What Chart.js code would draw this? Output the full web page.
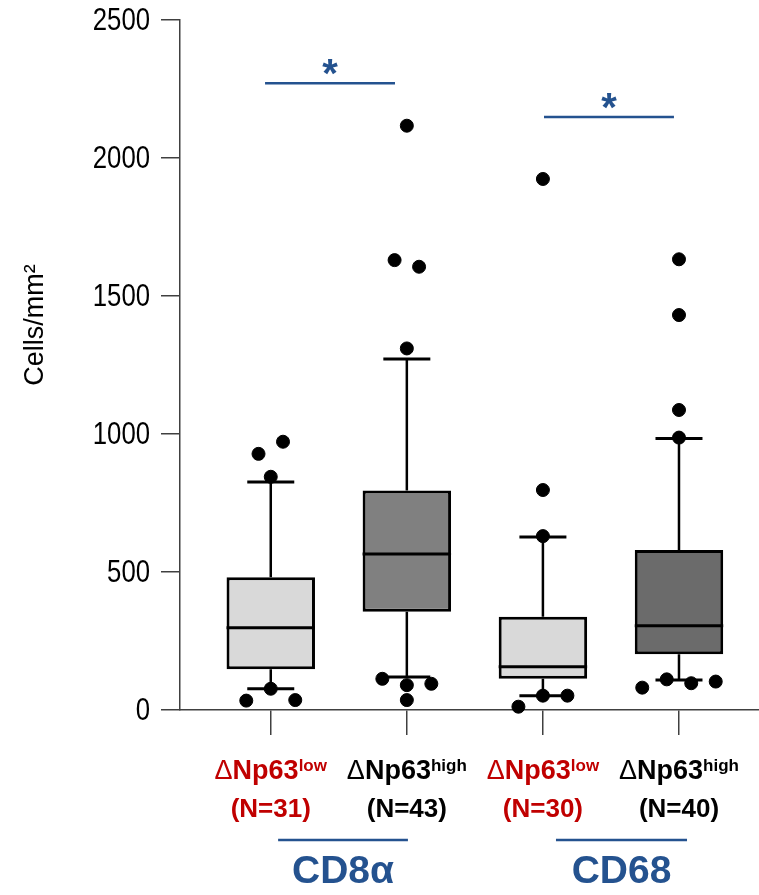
<!DOCTYPE html>
<html>
<head>
<meta charset="utf-8">
<script src="https://cdn.jsdelivr.net/npm/chart.js@4.4.1/dist/chart.umd.min.js"></script>
<style>
  html, body { margin: 0; padding: 0; background: #fff; }
  canvas { display: block; }
</style>
</head>
<body>
<canvas id="boxChart" width="759" height="895"></canvas>
<script>
// groups, left to right
var groupPos = [1, 2, 3, 4];
var groupName = ['\u0394Np63', '\u0394Np63', '\u0394Np63', '\u0394Np63'];
var groupSup = ['low', 'high', 'low', 'high'];
var groupN = ['(N=31)', '(N=43)', '(N=30)', '(N=40)'];
var markerNames = ['CD8\u03b1', 'CD68'];

// box plot values (cells/mm2)
var whiskerLow = [77, 120, 52, 109];
var q1 = [148, 356, 113, 202];
var median = [298, 565, 157, 305];
var q3 = [481, 795, 338, 580];
var whiskerHigh = [826, 1272, 627, 984];
var outliers1 = [928, 972, 845, 34, 77, 36];
var outliers2 = [2117, 1630, 1606, 1310, 113, 90, 95, 36];
var outliers3 = [1924, 797, 630, 12, 52, 52];
var outliers4 = [1633, 1431, 1087, 987, 81, 111, 97, 103];

var yTicks = [0, 500, 1000, 1500, 2000, 2500];

var boxFill = ['#d9d9d9', '#808080', '#d9d9d9', '#6b6b6b'];
var lowRed = '#c00000';
var navy = '#24528f';
var axisGrey = '#404040';
var FONT = '"Liberation Sans", Arial, sans-serif';

// spread points that would overlap side by side (like a small beeswarm)
function swarm(values, center) {
    var closeGap = 47, step = 0.18;
    var used = values.map(function () { return false; });
    var pts = [];
    for (var i = 0; i < values.length; i++) {
        if (used[i]) continue;
        var cluster = [i];
        used[i] = true;
        for (var k = 0; k < cluster.length; k++) {
            for (var j = 0; j < values.length; j++) {
                if (!used[j] && Math.abs(values[j] - values[cluster[k]]) < closeGap) {
                    used[j] = true;
                    cluster.push(j);
                }
            }
        }
        cluster.sort(function (a, b) { return a - b; });
        cluster.forEach(function (idx, n) {
            pts.push({x: center + (n - (cluster.length - 1) / 2) * step, y: values[idx]});
        });
    }
    return pts;
}

var outlierPts = [];
[outliers1, outliers2, outliers3, outliers4].forEach(function (vals, i) {
    outlierPts = outlierPts.concat(swarm(vals, groupPos[i]));
});

var boxData = groupPos.map(function (x, i) {
    return {x: x, y: [q1[i], q3[i]]};
});

// whiskers, caps and medians around the floating bars
var boxPlotPlugin = {
    id: 'boxPlotPlugin',
    beforeDatasetsDraw: function (chart) {
        var ctx = chart.ctx, y = chart.scales.y;
        var meta = chart.getDatasetMeta(0);
        ctx.save();
        ctx.strokeStyle = '#000';
        meta.data.forEach(function (el, i) {
            ctx.lineWidth = 2.5;
            ctx.beginPath();
            ctx.moveTo(el.x, y.getPixelForValue(q3[i]));
            ctx.lineTo(el.x, y.getPixelForValue(whiskerHigh[i]));
            ctx.moveTo(el.x, y.getPixelForValue(q1[i]));
            ctx.lineTo(el.x, y.getPixelForValue(whiskerLow[i]));
            ctx.stroke();
            ctx.lineWidth = 3;
            ctx.beginPath();
            [whiskerHigh[i], whiskerLow[i]].forEach(function (v) {
                var py = y.getPixelForValue(v);
                ctx.moveTo(el.x - 23.5, py);
                ctx.lineTo(el.x + 23.5, py);
            });
            ctx.stroke();
        });
        ctx.restore();
    },
    afterDatasetsDraw: function (chart) {
        var ctx = chart.ctx, y = chart.scales.y;
        var meta = chart.getDatasetMeta(0);
        ctx.save();
        ctx.strokeStyle = '#000';
        ctx.lineWidth = 3;
        meta.data.forEach(function (el, i) {
            var py = y.getPixelForValue(median[i]);
            ctx.beginPath();
            ctx.moveTo(el.x - el.width / 2, py);
            ctx.lineTo(el.x + el.width / 2, py);
            ctx.stroke();
        });
        ctx.restore();
    }
};

// y tick labels (condensed), significance bars, category labels and the y title
var labelsPlugin = {
    id: 'labelsPlugin',
    afterDraw: function (chart) {
        var ctx = chart.ctx, x = chart.scales.x, y = chart.scales.y;
        var area = chart.chartArea;
        ctx.save();

        // y tick labels, squeezed like a narrow font
        ctx.fillStyle = '#000';
        ctx.font = '31px ' + FONT;
        ctx.textAlign = 'right';
        ctx.textBaseline = 'middle';
        y.ticks.forEach(function (t) {
            ctx.save();
            ctx.translate(150, y.getPixelForValue(t.value) + 1);
            ctx.scale(0.83, 1);
            ctx.fillText(String(t.value), 0, 0);
            ctx.restore();
        });

        // significance
        [[0.958, 1.913, 2271], [3.008, 3.963, 2149]].forEach(function (s) {
            var x0 = x.getPixelForValue(s[0]), x1 = x.getPixelForValue(s[1]);
            var py = y.getPixelForValue(s[2]);
            ctx.strokeStyle = navy;
            ctx.lineWidth = 2.5;
            ctx.beginPath();
            ctx.moveTo(x0, py);
            ctx.lineTo(x1, py);
            ctx.stroke();
            ctx.fillStyle = navy;
            ctx.font = 'bold 40px ' + FONT;
            ctx.textAlign = 'center';
            ctx.textBaseline = 'alphabetic';
            ctx.fillText('*', (x0 + x1) / 2, py + 4);
        });

        // group labels under the ticks
        groupPos.forEach(function (v, i) {
            var cx = x.getPixelForValue(v);
            var color = groupSup[i] === 'low' ? lowRed : '#000';
            var parts = [
                {t: groupName[i].charAt(0), f: '27px ' + FONT, dy: 0},
                {t: groupName[i].slice(1), f: 'bold 27px ' + FONT, dy: 0},
                {t: groupSup[i], f: 'bold 17px ' + FONT, dy: -8}
            ];
            var w = 0;
            parts.forEach(function (p) { ctx.font = p.f; p.w = ctx.measureText(p.t).width; w += p.w; });
            var px = cx - w / 2;
            ctx.fillStyle = color;
            ctx.textAlign = 'left';
            ctx.textBaseline = 'alphabetic';
            parts.forEach(function (p) {
                ctx.font = p.f;
                ctx.fillText(p.t, px, area.bottom + 69 + p.dy);
                px += p.w;
            });
            ctx.font = 'bold 26px ' + FONT;
            ctx.textAlign = 'center';
            ctx.fillText(groupN[i], cx, area.bottom + 107);
        });

        // marker groups
        [[1.054, 2.008], [3.096, 4.059]].forEach(function (g, i) {
            var x0 = x.getPixelForValue(g[0]), x1 = x.getPixelForValue(g[1]);
            ctx.strokeStyle = navy;
            ctx.lineWidth = 2.5;
            ctx.beginPath();
            ctx.moveTo(x0, area.bottom + 130);
            ctx.lineTo(x1, area.bottom + 130);
            ctx.stroke();
            ctx.fillStyle = navy;
            ctx.font = 'bold 39px ' + FONT;
            ctx.textAlign = 'center';
            ctx.fillText(markerNames[i], (x0 + x1) / 2, area.bottom + 173);
        });

        // y title
        ctx.translate(43, (area.top + area.bottom) / 2 - 40);
        ctx.rotate(-Math.PI / 2);
        ctx.fillStyle = '#000';
        ctx.font = '27px ' + FONT;
        ctx.textAlign = 'center';
        ctx.textBaseline = 'alphabetic';
        ctx.fillText('Cells/mm\u00b2', 0, 0);
        ctx.restore();
    }
};

new Chart(document.getElementById('boxChart'), {
    type: 'bar',
    data: {
        datasets: [{
            type: 'bar',
            data: boxData,
            backgroundColor: boxFill,
            borderColor: '#000',
            borderWidth: 3,
            borderSkipped: false,
            categoryPercentage: 0.65,
            barPercentage: 1,
            order: 2
        }, {
            type: 'scatter',
            data: outlierPts,
            backgroundColor: '#000',
            borderColor: '#000',
            pointRadius: 6.5,
            clip: false,
            order: 1
        }]
    },
    options: {
        responsive: false,
        animation: false,
        devicePixelRatio: 1,
        layout: {autoPadding: false, padding: {top: 20, right: 0, bottom: 160, left: 0}},
        plugins: {legend: {display: false}, tooltip: {enabled: false}},
        scales: {
            x: {
                type: 'linear',
                offset: false,
                min: 0.333,
                max: 4.588,
                afterBuildTicks: function (scale) {
                    scale.ticks = groupPos.map(function (v) { return {value: v}; });
                },
                ticks: {display: false},
                grid: {offset: false, drawOnChartArea: false, drawTicks: true, tickLength: 25, color: axisGrey, lineWidth: 1.5},
                border: {color: axisGrey, width: 1.5}
            },
            y: {
                min: 0,
                max: 2500,
                afterBuildTicks: function (scale) {
                    scale.ticks = yTicks.map(function (v) { return {value: v}; });
                },
                afterFit: function (scale) {
                    scale.width = 180;
                    scale.paddingTop = 0;
                    scale.paddingBottom = 0;
                },
                ticks: {display: false},
                grid: {drawOnChartArea: false, drawTicks: true, tickLength: 19, color: axisGrey, lineWidth: 1.5},
                border: {color: axisGrey, width: 1.5}
            }
        }
    },
    plugins: [boxPlotPlugin, labelsPlugin]
});
</script>
</body>
</html>
